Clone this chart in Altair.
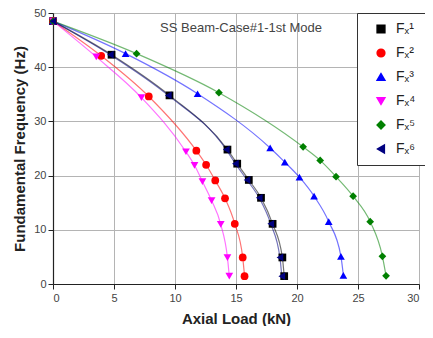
import altair as alt
import pandas as pd

series_names = ["Fₓ¹", "Fₓ²", "Fₓ³", "Fₓ⁴", "Fₓ⁵", "Fₓ⁶"]
colors = ["#000000", "#ff0000", "#0000ff", "#ff00ff", "#008000", "#000080"]
shapes = ["square", "circle", "triangle-up", "triangle-down", "diamond", "triangle-left"]

x_f1 = [0, 4.8, 9.55, 14.3, 15.1, 16.05, 17.05, 18.0, 18.8, 18.95]
y_f1 = [48.5, 42.3, 34.8, 24.8, 22.2, 19.2, 15.9, 11.1, 4.9, 1.45]
x_f2 = [0, 3.95, 7.85, 11.75, 12.55, 13.3, 14.1, 14.9, 15.55, 15.7]
y_f2 = [48.5, 42.1, 34.6, 24.6, 22.0, 19.1, 15.8, 11.1, 4.9, 1.45]
x_f3 = [0, 5.95, 11.85, 17.8, 19.0, 20.2, 21.4, 22.6, 23.6, 23.8]
y_f3 = [48.5, 42.5, 35.1, 25.1, 22.5, 19.7, 16.2, 11.5, 5.1, 1.6]
x_f4 = [0, 3.55, 7.25, 10.9, 11.6, 12.25, 13.0, 13.75, 14.3, 14.45]
y_f4 = [48.5, 41.9, 34.4, 24.4, 21.9, 18.9, 15.4, 11.0, 4.85, 1.45]
x_f5 = [0, 6.85, 13.6, 20.5, 21.9, 23.2, 24.6, 26.0, 27.0, 27.3]
y_f5 = [48.5, 42.5, 35.3, 25.3, 22.8, 19.8, 16.2, 11.5, 5.1, 1.5]
x_f6 = [0, 4.7, 9.45, 14.2, 14.95, 15.9, 16.9, 17.85, 18.6, 18.75]
y_f6 = [48.5, 42.3, 34.8, 24.8, 22.2, 19.2, 15.9, 11.1, 4.9, 1.45]

x_ticks = [0, 2.5, 5, 7.5, 10, 12.5, 15, 17.5, 20, 22.5, 25, 27.5, 30]
y_ticks = [0, 5, 10, 15, 20, 25, 30, 35, 40, 45, 50]
chart_title = "SS Beam-Case#1-1st Mode"

xs = [x_f1, x_f2, x_f3, x_f4, x_f5, x_f6]
ys = [y_f1, y_f2, y_f3, y_f4, y_f5, y_f6]
rows = []
for si, (name, xv, yv) in enumerate(zip(series_names, xs, ys)):
    for i, (a, b) in enumerate(zip(xv, yv)):
        rows.append({"series": name, "sidx": si, "idx": i, "x": a, "y": b})
df = pd.DataFrame(rows)

FONT = "Liberation Sans"
major_grid = "#b4b4b4"
minor_grid = "#ececec"

x_axis = alt.Axis(
    values=x_ticks,
    labelExpr="datum.value % 5 === 0 ? datum.label : ''",
    grid=True,
    gridColor={"condition": {"test": "datum.value % 5 === 0", "value": major_grid}, "value": minor_grid},
    tickSize=5, tickColor="#222", domainColor="#222", domainWidth=1.2,
    labelFontSize=11, labelColor="#444", labelPadding=3,
    title="Axial Load (kN)", titleFontSize=15, titleFontWeight="bold", titleColor="#222",
    titlePadding=8, labelFont=FONT, titleFont=FONT,
)
y_axis = alt.Axis(
    values=y_ticks,
    labelExpr="datum.value % 10 === 0 ? datum.label : ''",
    grid=True,
    gridColor={"condition": {"test": "datum.value % 10 === 0", "value": major_grid}, "value": minor_grid},
    tickSize=5, tickColor="#222", domainColor="#222", domainWidth=1.2,
    labelFontSize=11, labelColor="#444", labelPadding=2,
    title="Fundamental Frequency (Hz)", titleFontSize=15, titleFontWeight="bold", titleColor="#222",
    titlePadding=6, labelFont=FONT, titleFont=FONT,
)

xs_scale = alt.Scale(domain=[0, 30], nice=False)
ys_scale = alt.Scale(domain=[0, 50], nice=False)
color_scale = alt.Scale(domain=series_names, range=colors)
shape_scale = alt.Scale(domain=series_names, range=shapes)

legend = alt.Legend(
    title=None, orient="none", legendX=304, legendY=0,
    strokeColor="#333", fillColor="white", padding=9,
    labelFontSize=14, labelFont=FONT, labelColor="#222",
    symbolSize=60, symbolOpacity=1, rowPadding=10, symbolOffset=8, labelOffset=8,
)

base = alt.Chart(df)

lines = base.mark_line(interpolate="monotone", strokeWidth=1.2, opacity=0.55).encode(
    x=alt.X("x:Q", scale=xs_scale, axis=x_axis),
    y=alt.Y("y:Q", scale=ys_scale, axis=y_axis),
    color=alt.Color("series:N", scale=color_scale, legend=legend),
    detail="series:N",
    order="idx:Q",
)

points = base.mark_point(filled=True, size=60, opacity=1).encode(
    x=alt.X("x:Q", scale=xs_scale),
    y=alt.Y("y:Q", scale=ys_scale),
    color=alt.Color("series:N", scale=color_scale, legend=legend),
    shape=alt.Shape("series:N", scale=shape_scale, legend=legend),
)

title_df = pd.DataFrame({"t": [chart_title]})
title_txt = alt.Chart(title_df).mark_text(
    fontSize=13, font=FONT, color="#444", align="center", baseline="middle"
).encode(text="t:N", x=alt.value(188), y=alt.value(15))

chart = alt.layer(lines, points, title_txt).properties(
    width=366, height=271,
    padding={"left": 45, "top": 5, "right": 6, "bottom": 42},
    autosize=alt.AutoSizeParams(type="none"),
).configure_view(stroke="#222", strokeWidth=1.2).configure(background="white")

chart.save("out.html", embed_options={"renderer": "svg", "actions": False})
